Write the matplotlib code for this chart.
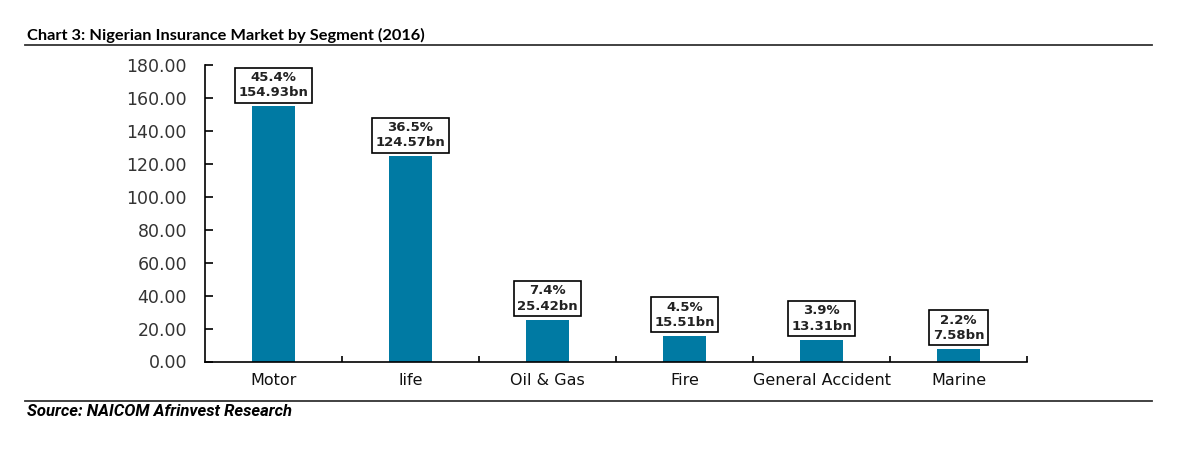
import matplotlib
matplotlib.use("Agg")
import matplotlib.pyplot as plt
from matplotlib.lines import Line2D

plt.rcParams["font.family"] = ["DejaVu Sans"]

categories = ["Motor", "life", "Oil & Gas", "Fire", "General Accident", "Marine"]
values = [154.93, 124.57, 25.42, 15.51, 13.31, 7.58]
shares = ["45.4%", "36.5%", "7.4%", "4.5%", "3.9%", "2.2%"]
yticks = [0, 20, 40, 60, 80, 100, 120, 140, 160, 180]

W, H = 1200, 453
fig = plt.figure(figsize=(W / 100, H / 100), dpi=100)
ax = fig.add_axes([205 / W, 1 - 361.5 / H, (1027 - 205) / W, (361.5 - 65) / H])

color = "#007AA3"
x = list(range(len(categories)))
ax.bar(x, values, width=0.31, color=color, zorder=2)

for xi, v, s in zip(x, values, shares):
    ax.annotate(f"{s}\n{v:.2f}bn", xy=(xi, v), xytext=(0, 5), textcoords="offset points",
                ha="center", va="bottom", fontsize=9.5, fontweight="bold",
                linespacing=1.25, color="#222222",
                bbox=dict(boxstyle="square,pad=0.25", fc="white", ec="black", lw=1.2))

ax.set_xlim(-0.5, len(categories) - 0.5)
ax.set_ylim(0, 180)
ax.set_yticks(yticks)
ax.set_yticklabels([f"{t:.2f}" for t in yticks], fontsize=12.5, color="#333333")
ax.set_xticks(x)
ax.set_xticklabels(categories, fontsize=11.5, color="#111111")
ax.tick_params(axis="x", length=0, pad=8)
ax.set_xticks([i + 0.5 for i in range(len(categories))], minor=True)
ax.tick_params(axis="x", which="minor", direction="in", length=4, width=1.2)
ax.tick_params(axis="y", direction="in", length=6, width=1.2, pad=13)

for side in ["top", "right"]:
    ax.spines[side].set_visible(False)
for side in ["left", "bottom"]:
    ax.spines[side].set_linewidth(1.2)

fig.text(27 / W, 1 - 35 / H, "Chart 3: Nigerian Insurance Market by Segment (2016)",
         fontsize=11.8, fontweight="bold", family="Lato", va="center", ha="left")
fig.add_artist(Line2D([25 / W, 1152 / W], [1 - 44.5 / H, 1 - 44.5 / H], color="#333333", lw=1.3))
fig.add_artist(Line2D([25 / W, 1152 / W], [1 - 401 / H, 1 - 401 / H], color="#333333", lw=1.3))
fig.text(27 / W, 1 - 412 / H, "Source: NAICOM Afrinvest Research",
         fontsize=12, fontweight="bold", fontstyle="italic", family="Roboto", va="center", ha="left")

fig.savefig("out.png", dpi=100)
